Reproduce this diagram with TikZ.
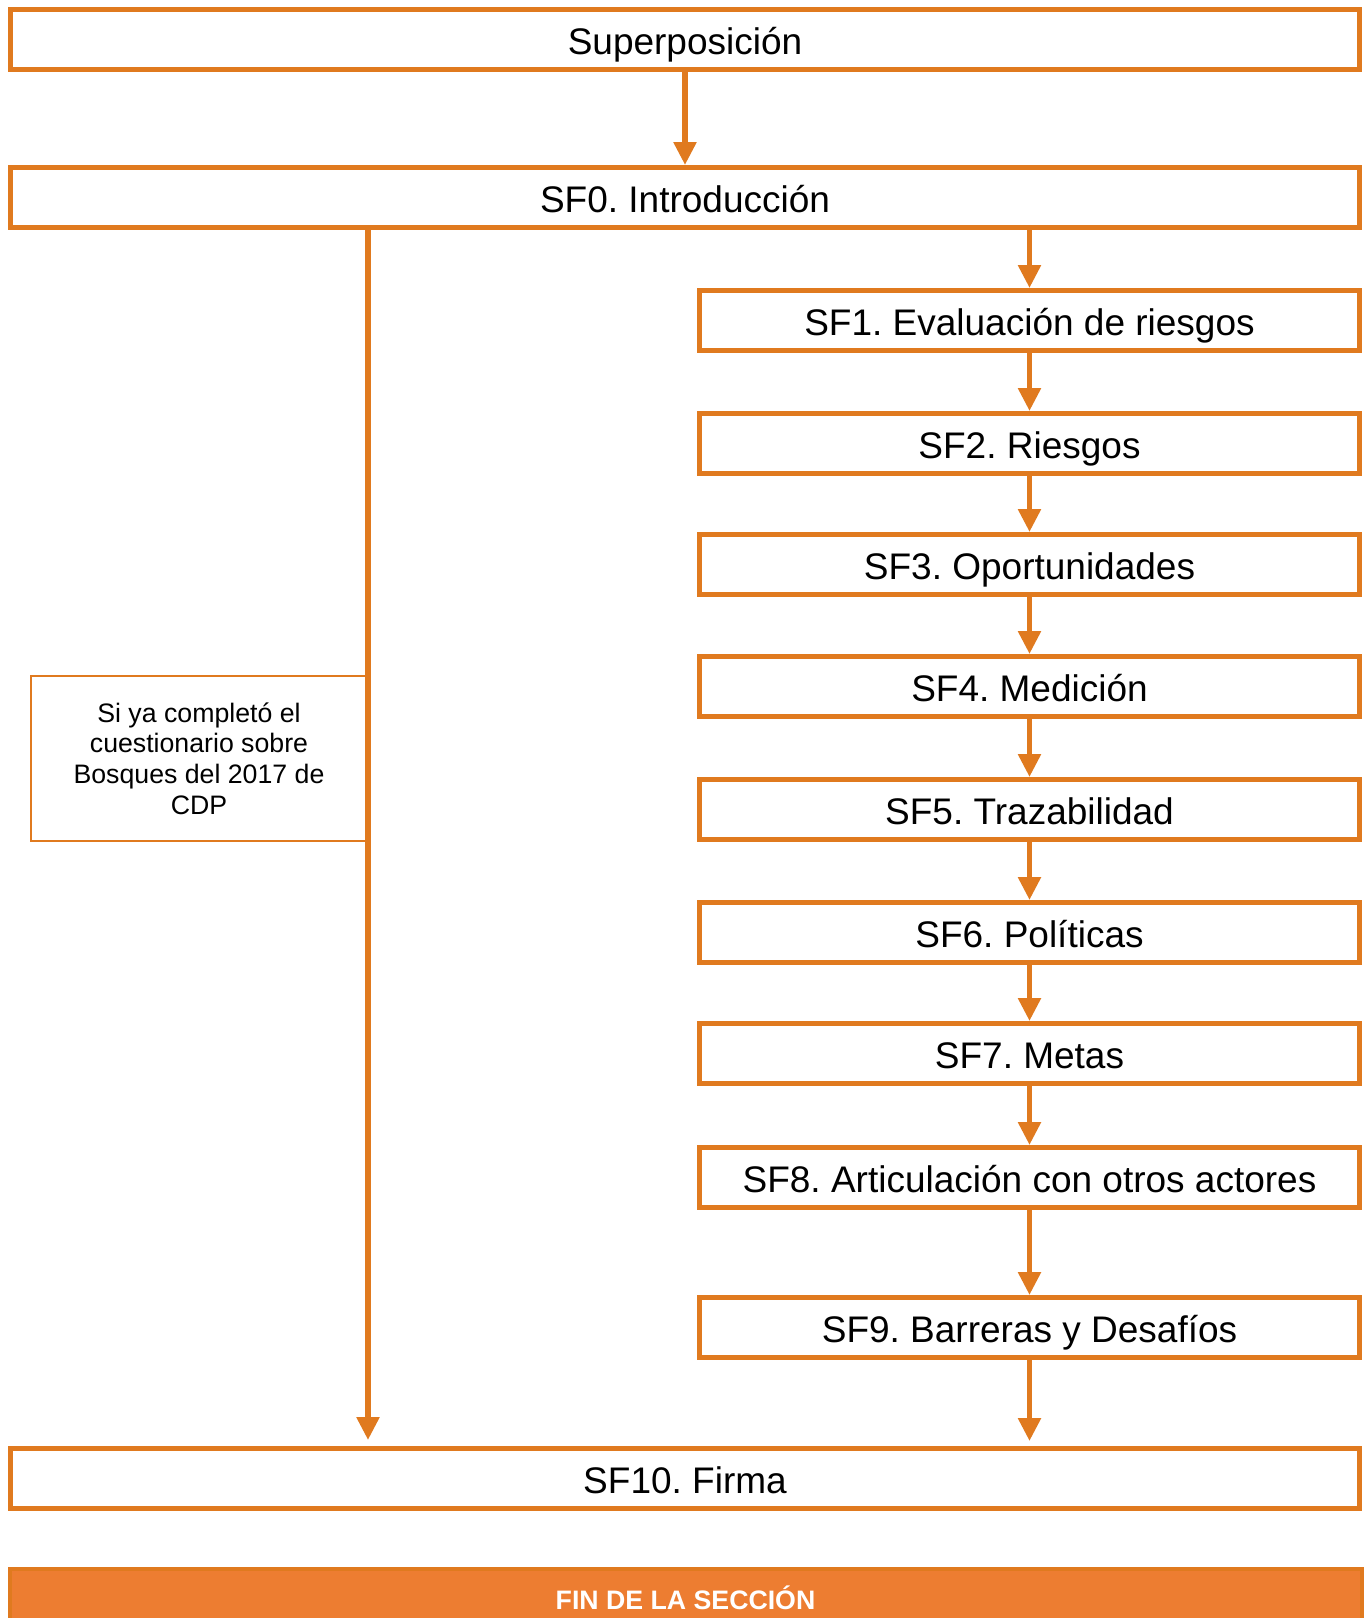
\documentclass[tikz,border=0pt]{standalone}
\usepackage{fontspec}
\setmainfont{Liberation Sans}
\usetikzlibrary{arrows.meta}
\definecolor{borange}{HTML}{E07A1F}
\definecolor{forange}{HTML}{ED7D31}
\frenchspacing
\begin{document}
\begin{tikzpicture}[x=1pt,y=-1pt,
  box/.style={draw=borange, line width=5pt, fill=white, minimum height=60pt, inner sep=0pt,
    font=\fontsize{37}{44}\selectfont\frenchspacing, text height=33pt, text depth=3pt},
  wide/.style={box, minimum width=1349pt},
  col/.style={box, minimum width=660pt},
  arr/.style={draw=borange, line width=5.5pt, -{Triangle[width=22pt,length=23pt]}},
  note/.style={draw=borange, line width=2pt, minimum width=336pt, minimum height=165pt,
    align=center, font=\fontsize{26.7}{30.7}\selectfont, inner sep=0pt},
  fin/.style={fill=forange, draw=borange, line width=4pt, minimum width=1352pt, minimum height=61pt,
    inner sep=0pt, text=white, font=\fontsize{26.7}{30}\selectfont\bfseries, text height=19pt, text depth=0pt}]
\fill[white] (0,0) rectangle (1369,1618);
\useasboundingbox (0,0) rectangle (1369,1618);

\node[wide] (sup) at (685,39.7) {Superposición};
\node[wide] (sf0) at (685,197.5) {SF0. Introducción};
\node[col] (sf1) at (1029.5,320.5) {SF1. Evaluación de riesgos};
\node[col] (sf2) at (1029.5,443.5) {SF2. Riesgos};
\node[col] (sf3) at (1029.5,564.5) {SF3. Oportunidades};
\node[col] (sf4) at (1029.5,686.5) {SF4. Medición};
\node[col] (sf5) at (1029.5,809.5) {SF5. Trazabilidad};
\node[col] (sf6) at (1029.5,932.5) {SF6. Políticas};
\node[col] (sf7) at (1029.5,1053.5) {SF7. Metas};
\node[col] (sf8) at (1029.5,1177.5) {SF8. Articulación con otros actores};
\node[col] (sf9) at (1029.5,1327.5) {SF9. Barreras y Desafíos};
\node[wide] (sf10) at (685,1478.5) {SF10. Firma};
\node[note] (nota) at (199,758.5) {Si ya completó el\\cuestionario sobre\\Bosques del 2017 de\\CDP};
\node[fin] (fin) at (685.5,1599.5) {FIN DE LA SECCIÓN};

\coordinate (lx) at (368,0);
\draw[arr] (sup) -- (sf0);
\draw[arr, shorten >=6pt] (sf0.south -| lx) -- (sf10.north -| lx);
\draw[arr] (sf0.south -| sf1) -- (sf1);
\draw[arr] (sf1) -- (sf2);
\draw[arr] (sf2) -- (sf3);
\draw[arr] (sf3) -- (sf4);
\draw[arr] (sf4) -- (sf5);
\draw[arr] (sf5) -- (sf6);
\draw[arr] (sf6) -- (sf7);
\draw[arr] (sf7) -- (sf8);
\draw[arr] (sf8) -- (sf9);
\draw[arr, shorten >=5pt] (sf9) -- (sf10.north -| sf9);
\end{tikzpicture}
\end{document}
